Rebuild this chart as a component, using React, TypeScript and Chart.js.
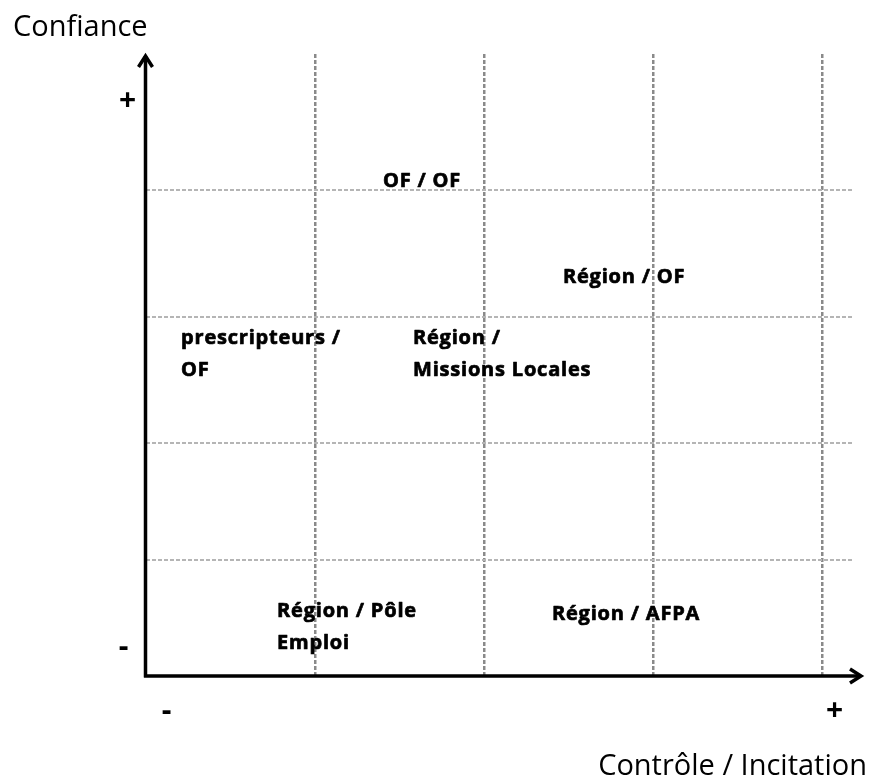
import React, { useEffect, useRef } from "react";
import { Chart, registerables } from "chart.js";

Chart.register(...registerables);

const xGridValues = [1, 2, 3, 4];
const yGridValues = [18.65, 37.46, 57.72, 78.14];
const xMax = 4.185;
const yMax = 100;

const labelLines = [
  ["OF / OF"],
  ["Région / OF"],
  ["prescripteurs /", "OF"],
  ["Région /", "Missions Locales"],
  ["Région / Pôle", "Emploi"],
  ["Région / AFPA"],
];
const labelX = [1.403, 2.466, 0.21, 1.58, 0.777, 2.401];
const labelY = [79.5, 64.1, 54.3, 54.3, 10.4, 9.9];

const yAxisTitle = "Confiance";
const xAxisTitle = "Contrôle / Incitation";

const FONT = "'Open Sans', 'Noto Sans', sans-serif";

const drawPlugin = {
  id: "quadrant",
  afterDraw(chart: any) {
    const ctx = chart.ctx as CanvasRenderingContext2D;
    const xs = chart.scales.x;
    const ys = chart.scales.y;
    const x0 = xs.getPixelForValue(0);
    const y0 = ys.getPixelForValue(0);
    const yTop = ys.getPixelForValue(yMax);
    const xRight = xs.getPixelForValue(xMax) + 9;
    ctx.save();
    // axes
    ctx.strokeStyle = "#000";
    ctx.fillStyle = "#000";
    ctx.lineWidth = 3.5;
    ctx.lineCap = "butt";
    ctx.beginPath();
    ctx.moveTo(x0, y0 + 1.5);
    ctx.lineTo(x0, yTop + 2);
    ctx.moveTo(x0 - 1.5, y0);
    ctx.lineTo(xRight - 2, y0);
    ctx.stroke();
    // arrow heads
    ctx.lineWidth = 3.5;
    ctx.lineJoin = "miter";
    ctx.beginPath();
    ctx.moveTo(x0 - 7, yTop + 13);
    ctx.lineTo(x0, yTop + 2);
    ctx.lineTo(x0 + 7, yTop + 13);
    ctx.stroke();
    ctx.beginPath();
    ctx.moveTo(xRight - 13, y0 - 7);
    ctx.lineTo(xRight - 2, y0);
    ctx.lineTo(xRight - 13, y0 + 7);
    ctx.stroke();

    // labels
    ctx.font = `bold 20px ${FONT}`;
    (ctx as any).letterSpacing = "0.8px";
    ctx.textAlign = "left";
    ctx.textBaseline = "middle";
    ctx.lineWidth = 0.7;
    ctx.lineJoin = "round";
    labelLines.forEach((lines, i) => {
      const px = xs.getPixelForValue(labelX[i]);
      const py = ys.getPixelForValue(labelY[i]);
      lines.forEach((line, j) => {
        ctx.fillText(line, px, py + j * 32);
        ctx.strokeText(line, px, py + j * 32);
      });
    });
    (ctx as any).letterSpacing = "0px";

    // signs
    ctx.font = `bold 30px ${FONT}`;
    ctx.textAlign = "center";
    ctx.fillText("+", x0 - 18, yTop + 47);
    ctx.fillText("-", x0 - 22, y0 - 29);
    ctx.fillText("-", x0 + 21, y0 + 35);
    ctx.fillText("+", xs.getPixelForValue(4) + 12, y0 + 35);

    // titles
    ctx.font = `29px ${FONT}`;
    ctx.textBaseline = "alphabetic";
    ctx.textAlign = "left";
    ctx.fillText(yAxisTitle, 13, 36);
    ctx.textAlign = "right";
    ctx.fillText(xAxisTitle, 867, 775);
    ctx.restore();
  },
};

export default function App() {
  const ref = useRef<HTMLCanvasElement>(null);
  useEffect(() => {
    if (!ref.current) return;
    const chart = new Chart(ref.current, {
      type: "scatter",
      data: { datasets: [{ data: [], pointRadius: 0 }] },
      options: {
        animation: false,
        responsive: false,
        events: [],
        layout: { padding: { left: 145.5, top: 54, right: 16, bottom: 105 } },
        plugins: { legend: { display: false }, tooltip: { enabled: false } },
        scales: {
          x: {
            type: "linear",
            min: 0,
            max: xMax,
            afterBuildTicks: (axis: any) => {
              axis.ticks = xGridValues.map((v) => ({ value: v }));
            },
            ticks: { display: false },
            grid: { color: "#8a8a8a", lineWidth: 2.5, drawTicks: false },
            border: { display: false, dash: [4, 2] },
          },
          y: {
            type: "linear",
            min: 0,
            max: yMax,
            afterBuildTicks: (axis: any) => {
              axis.ticks = yGridValues.map((v) => ({ value: v }));
            },
            ticks: { display: false },
            grid: { color: "#b5b5b5", lineWidth: 2, drawTicks: false },
            border: { display: false, dash: [4, 2] },
          },
        },
      },
      plugins: [drawPlugin],
    });
    return () => chart.destroy();
  }, []);
  return (
    <div style={{ position: "fixed", left: 0, top: 0, width: 870, height: 781, background: "#fff" }}>
      <canvas ref={ref} width={870} height={781} style={{ width: 870, height: 781, display: "block" }} />
    </div>
  );
}
